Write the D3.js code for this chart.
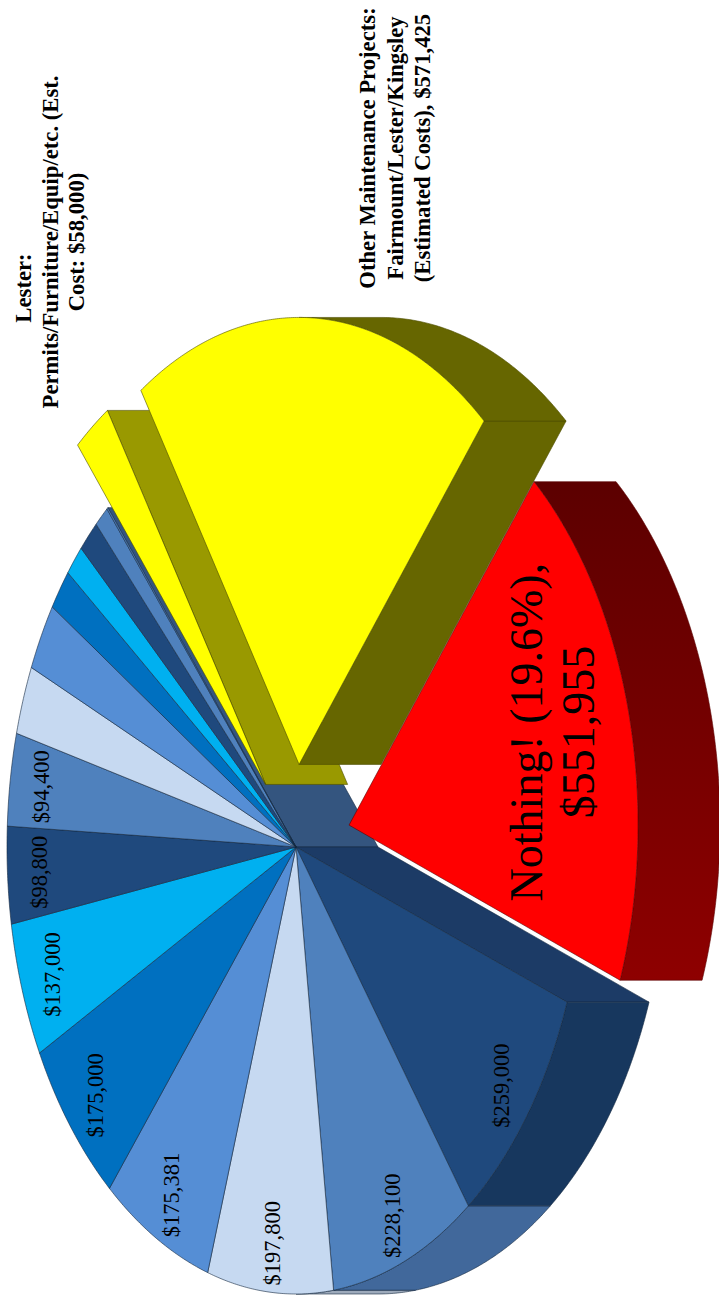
<!DOCTYPE html>
<html>
<head>
<meta charset="utf-8">
<script src="https://cdn.jsdelivr.net/npm/d3@7"></script>
<style>
  html, body { margin: 0; padding: 0; background: #ffffff; }
  svg { display: block; }
</style>
</head>
<body>
<script>
// ---------------- DATA ----------------
const categories = [
  "Nothing!", "Project A", "Project B", "Project C", "Project D", "Project E",
  "Project F", "Project G", "Project H", "Project I", "Project J", "Project K",
  "Project L", "Project M", "Project N", "Project O",
  "Lester: Permits/Furniture/Equip/etc.", "Other Maintenance Projects"
];
const values = [
  551955, 259000, 228100, 197800, 175381, 175000,
  137000, 98800, 94400, 70000, 69000, 42000,
  32000, 33600, 22700, 2000,
  58000, 571425
];
const explodeFrac = [0.19, 0, 0, 0, 0, 0, 0, 0, 0, 0, 0, 0, 0, 0, 0, 0, 0.175, 0.185];
const showValueLabel = [false, true, true, true, true, true, true, true, true,
  false, false, false, false, false, false, false, false, false];
const nothingLabel = ["Nothing! ({pct}),", "{val}"];
const lesterLabel = ["Lester:", "Permits/Furniture/Equip/etc. (Est.", "Cost: {val})"];
const otherLabel = ["Other Maintenance Projects:", "Fairmount/Lester/Kingsley", "(Estimated Costs), {val}"];

// ---------------- STYLE / LAYOUT ----------------
const blueTop   = ["#1F497D", "#4F81BD", "#C6D9F1", "#558ED5", "#0070C0", "#00B0F0"];
const blueOuter = ["#17375E", "#41689B", "#9DAABB", "#42709F", "#005A99", "#0090C4"];
const blueCut   = ["#1C3B66", "#34557F", "#8A98AA", "#3A6290", "#004F86", "#007FAE"];
const topColors = values.map((v, i) => i === 0 ? "#FF0000" : (i >= 16 ? "#FFFF00" : (i === 15 ? "#4F81BD" : blueTop[(i - 1) % 6])));
const outerColors = values.map((v, i) => i === 0 ? "url(#redWall)" : (i >= 16 ? "#666600" : blueOuter[(i - 1) % 6]));
const cutColors = values.map((v, i) => i === 0 ? "#700000" : (i === 16 ? "#999900" : (i === 17 ? "#666600" : (i === 15 ? "#34557F" : blueCut[(i - 1) % 6]))));
const strokeColors = values.map((v, i) => i === 0 ? "#5a0000" : (i >= 16 ? "#4d4d00" : "#14283f"));

const SW = 719, SH = 1310;       // screen (portrait)
const OW = 1310;                  // original landscape width
const deg = Math.PI / 180;
const cx = 463, cy = 296, rx = 447, ry = 289, depth = 82;
const startDeg = 39.8;

const svg = d3.select("body").append("svg").attr("width", SW).attr("height", SH);
const defs = svg.append("defs");
const grad = defs.append("linearGradient").attr("id", "redWall")
  .attr("x1", 1).attr("y1", 0).attr("x2", 0).attr("y2", 0);
grad.append("stop").attr("offset", 0).attr("stop-color", "#5c0000");
grad.append("stop").attr("offset", 1).attr("stop-color", "#8e0000");

const g = svg.append("g").attr("transform", `translate(0,${OW}) rotate(-90)`);

const total = d3.sum(values);
const pie = d3.pie().value(d => d).sort(null)
  .startAngle((startDeg + 90) * deg).endAngle((startDeg + 90) * deg + 2 * Math.PI);
const slices = pie(values).map((a, i) => {
  const t0 = a.startAngle - Math.PI / 2, t1 = a.endAngle - Math.PI / 2, tm = (t0 + t1) / 2;
  const e = explodeFrac[i];
  return { i, t0, t1, tm, eu: e * Math.cos(tm), ev: e * Math.sin(tm) };
});
const n = slices.length;

function P(s, u, v, z = 0) { return [cx + (s.eu + u) * rx, cy + (s.ev + v) * ry + z]; }
function rim(s, t, z = 0) { return P(s, Math.cos(t), Math.sin(t), z); }
function arcPts(s, a, b, z = 0) {
  const k = Math.max(2, Math.ceil(Math.abs(b - a) / (0.4 * deg)));
  return d3.range(k + 1).map(j => rim(s, a + (b - a) * j / k, z));
}
const line = d3.line();
const closed = pts => line(pts) + "Z";

// ---------------- WALLS ----------------
const walls = [];
slices.forEach((s, i) => {
  for (let k = -1; k <= 2; k++) {
    const a = Math.max(s.t0, 2 * Math.PI * k), b = Math.min(s.t1, 2 * Math.PI * k + Math.PI);
    if (b - a > 1e-4) {
      const pts = arcPts(s, a, b).concat(arcPts(s, b, a, depth));
      const ground = d3.range(31).map(j => { const t = a + (b - a) * j / 30; return [s.eu + Math.cos(t), s.ev + Math.sin(t)]; });
      walls.push({ pts, fill: outerColors[i], stroke: strokeColors[i], ground });
    }
  }
  const prev = slices[(i - 1 + n) % n], next = slices[(i + 1) % n];
  const radial = (t) => {
    const pts = [P(s, 0, 0), rim(s, t), rim(s, t, depth), P(s, 0, 0, depth)];
    const ground = [[s.eu, s.ev], [s.eu + Math.cos(t), s.ev + Math.sin(t)]];
    walls.push({ pts, fill: cutColors[i], stroke: strokeColors[i], ground });
  };
  if ((explodeFrac[i] > 0 || explodeFrac[prev.i] > 0) && -Math.cos(s.t0) > 0) radial(s.t0);
  if ((explodeFrac[i] > 0 || explodeFrac[next.i] > 0) && Math.cos(s.t1) > 0) radial(s.t1);
});
walls.forEach(w => {
  w.ground.sort((p, q) => p[0] - q[0]);
  w.xmin = w.ground[0][0]; w.xmax = w.ground[w.ground.length - 1][0];
  w.ymean = d3.mean(w.ground, p => p[1]);
});
function yAt(gr, x) {
  for (let j = 0; j < gr.length - 1; j++) {
    const a = gr[j], b = gr[j + 1];
    if (x >= a[0] && x <= b[0]) return b[0] === a[0] ? (a[1] + b[1]) / 2 : a[1] + (b[1] - a[1]) * (x - a[0]) / (b[0] - a[0]);
  }
  return d3.mean(gr, p => p[1]);
}
walls.sort((a, b) => {
  const lo = Math.max(a.xmin, b.xmin), hi = Math.min(a.xmax, b.xmax);
  if (hi - lo > 1e-3) { const xm = (lo + hi) / 2; return yAt(a.ground, xm) - yAt(b.ground, xm); }
  return a.ymean - b.ymean;
});

g.append("g").selectAll("path").data(walls).join("path")
  .attr("d", d => closed(d.pts))
  .attr("fill", d => d.fill)
  .attr("stroke", d => d.stroke)
  .attr("stroke-width", 0.6)
  .attr("stroke-linejoin", "round");

// ---------------- TOPS ----------------
g.append("g").selectAll("path").data(slices).join("path")
  .attr("d", s => closed([P(s, 0, 0)].concat(arcPts(s, s.t0, s.t1))))
  .attr("fill", s => topColors[s.i])
  .attr("stroke", s => strokeColors[s.i])
  .attr("stroke-width", 0.6)
  .attr("stroke-linejoin", "round");

// ---------------- LABELS ----------------
const money = d3.format("$,");
const serif = "'Liberation Serif', 'Times New Roman', serif";

g.append("g").selectAll("text").data(slices.filter(s => showValueLabel[s.i])).join("text")
  .attr("x", s => P(s, 0.89 * Math.cos(s.tm), 0.89 * Math.sin(s.tm))[0])
  .attr("y", s => P(s, 0.89 * Math.cos(s.tm), 0.89 * Math.sin(s.tm))[1])
  .attr("text-anchor", "middle")
  .attr("dominant-baseline", "central")
  .attr("font-family", serif)
  .attr("font-size", 22.5)
  .attr("fill", "#000")
  .text(s => money(values[s.i]));

// Nothing! label inside red slice
{
  const s = slices[0];
  const [lx, ly] = P(s, 0.735 * Math.cos(s.tm - 1.5 * deg), 0.735 * Math.sin(s.tm - 1.5 * deg));
  const pct = d3.format(".1%")(values[0] / total);
  const lines = nothingLabel.map(t => t.replace("{pct}", pct).replace("{val}", money(values[0])));
  const t = g.append("text").attr("text-anchor", "middle")
    .attr("font-family", serif).attr("font-size", 46).attr("fill", "#000");
  lines.forEach((L, k) => t.append("tspan").attr("x", lx).attr("y", ly - 11 + k * 52).text(L));
}

function outsideLabel(lines, value, x, y0, dy, shifts) {
  const t = g.append("text").attr("text-anchor", "middle")
    .attr("font-family", serif).attr("font-weight", "bold").attr("font-size", 22.7).attr("fill", "#000");
  lines.map(L => L.replace("{val}", money(value))).forEach((L, k) =>
    t.append("tspan").attr("x", x + (shifts ? shifts[k] : 0)).attr("y", y0 + k * dy).text(L));
}
outsideLabel(lesterLabel, values[16], 1068, 31, 26.5, [-46, 0, 0]);
outsideLabel(otherLabel, values[17], 1162, 375, 27.5);
</script>
</body>
</html>
